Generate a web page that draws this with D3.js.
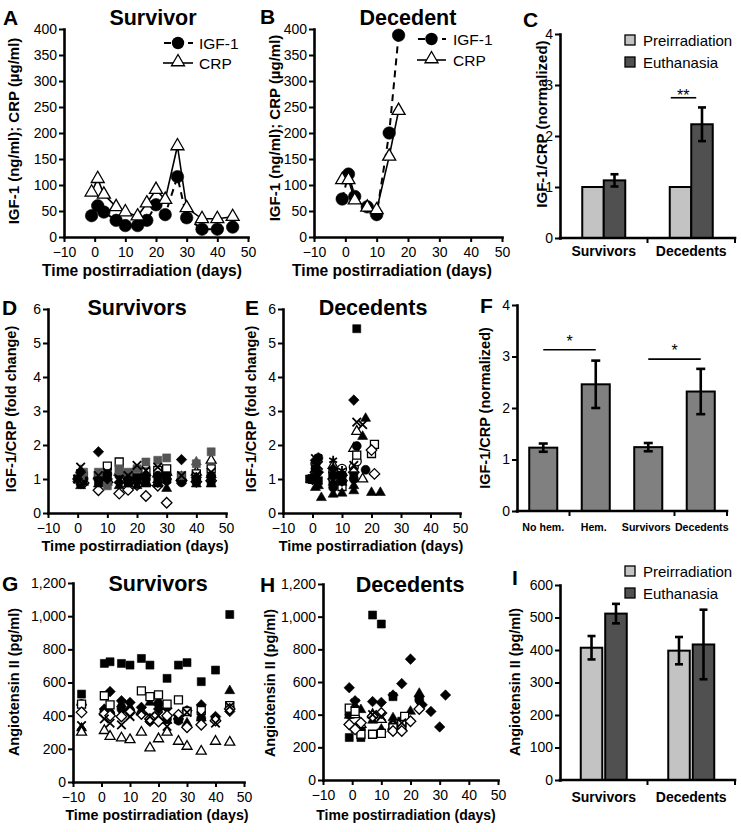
<!DOCTYPE html>
<html><head><meta charset="utf-8">
<script src="https://cdn.jsdelivr.net/npm/d3@7"></script>
<style>body{margin:0;background:#fff} svg{display:block} text{font-family:"Liberation Sans",Arial,Helvetica,sans-serif}</style>
</head><body><svg id="c" width="741" height="832"></svg>
<script>
// ---------------- DATA ----------------
// Panel A (survivor) & B (decedent): IGF-1 and CRP time courses
const daysA = [-1,1,3,7,10,14,17,20,23,27,30,35,40,45];
const igfA  = [41,60,48,32,22,22,32,62,43,116,37,15,15,19];
const crpA  = [86,112,82,58,48,40,65,91,72,175,56,35,35,39];
const daysB = [-1,1,3,7,10,14,17];
const igfB  = [73,121,78,58,43,200,388];
const crpB  = [110,110,71,57,52,155,243];
const timeTicks = [-10,0,10,20,30,40,50];
const yTicksAB = [0,50,100,150,200,250,300,350,400];

// Panel C
const catsC = ["Survivors","Decedents"];
const preC = [1.0,1.0];
const euC = [1.13,2.23];
const euErrC = [0.12,0.33];
const yTicksC = [0,1,2,3,4];

// Panel D (survivors, fold change)
const D_sqK  = [[0,1.0],[1,0.95],[2,1.1],[7,0.95],[10,1.1],[14,1.25],[17,1.15],[20,1.05],[23,0.95],[27,1.0],[30,1.1],[35,1.0],[40,0.95],[45,0.9]];
const D_sqG  = [[0,1.0],[1,1.1],[2,1.2],[7,1.2],[10,0.8],[14,1.3],[17,1.2],[20,1.3],[23,1.5],[27,1.55],[30,1.62],[35,1.1],[40,1.45],[45,1.8]];
const D_sqO  = [[1,1.15],[7,1.1],[10,1.38],[14,1.5],[17,1.1],[20,1.2],[23,1.2],[27,1.25],[30,1.3],[35,1.05],[40,1.15],[45,1.3]];
const D_diaK = [[0,1.0],[1,1.2],[7,1.8],[10,1.0],[14,0.9],[17,1.0],[20,0.9],[23,1.1],[27,0.9],[30,1.0],[35,1.57],[40,1.05],[45,1.05]];
const D_diaO = [[2,0.88],[7,0.67],[10,0.9],[14,0.57],[17,0.68],[20,0.82],[23,0.5],[27,0.8],[30,0.3],[35,0.95],[40,0.92],[45,0.95]];
const D_cirK = [[0,1.0],[1,0.85],[2,1.0],[7,1.0],[10,1.15],[14,1.1],[17,0.9],[20,1.0],[23,1.0],[27,1.1],[30,0.95],[35,0.9],[40,1.0],[45,1.1]];
const D_triK = [[0,1.0],[1,0.8],[2,0.9],[7,0.85],[10,0.9],[14,0.8],[17,0.85],[20,0.8],[23,0.85],[27,0.85],[30,0.72],[35,0.95],[40,0.85],[45,0.85]];
const D_triO = [[1,1.05],[7,1.1],[10,1.0],[14,1.2],[17,1.05],[20,1.1],[23,0.9],[27,1.15],[30,1.2],[35,1.05],[40,1.2],[45,1.55]];
const D_x    = [[0,1.0],[1,1.35],[7,1.1],[10,1.2],[14,1.0],[17,1.1],[20,1.4],[23,1.25],[27,1.35],[30,1.0],[35,1.1],[40,1.1],[45,1.2]];
const D_triG = [[1,1.25],[14,1.2],[40,1.5]];

// Panel E (decedents, fold change)
const E_sqK  = [[-1,1.0],[0,1.0],[1,1.3],[2,0.95],[7,1.1],[10,1.0],[14,1.1],[15,5.42]];
const E_diaK = [[0,1.0],[1,1.55],[2,1.2],[7,1.3],[10,1.1],[14,3.32]];
const E_x    = [[0,1.0],[1,1.6],[2,1.4],[7,1.2],[10,1.0],[14,1.4],[15,2.67],[17,2.6]];
const E_triK = [[0,1.0],[1,0.75],[3,0.45],[7,0.55],[10,0.58],[14,0.65],[18,2.78]];
const E_triK2= [[0,1.0],[1,1.1],[2,0.8],[7,0.9],[10,0.9],[14,0.8],[17,2.25],[20,0.6],[23,0.6]];
const E_triO = [[0,1.0],[1,1.2],[7,1.4],[10,1.2],[14,1.9],[15,2.4],[17,1.0]];
const E_cirK = [[0,1.0],[1,1.3],[2,1.62],[7,0.75],[10,1.1],[14,1.0],[15,1.97],[18,1.27]];
const E_cirO = [[0,1.0],[1,1.45],[7,1.2],[10,1.3],[14,1.35],[15,1.52]];
const E_sqO  = [[0,1.0],[1,1.1],[7,1.0],[10,0.78],[15,1.7],[20,1.75],[21,2.02]];
const E_diaO = [[0,1.0],[1,1.2],[7,1.0],[10,0.95],[14,1.2],[20,1.85],[21,1.15]];
const E_star = [[0,1.0],[1,1.5],[2,1.65],[7,1.55],[10,1.25]];
const yTicksDE = [0,1,2,3,4,5,6];

// Panel F
const catsF = ["No hem.","Hem.","Survivors","Decedents"];
const valF = [1.23,2.46,1.24,2.32];
const errF = [0.08,0.46,0.08,0.44];

// Panel G (survivors, angiotensin II)
const G_sqK  = [[-7,530],[1,715],[3,725],[7,715],[10,705],[14,745],[17,705],[23,625],[27,705],[30,720],[35,605],[40,675],[45,1010]];
const G_sqO  = [[-7,470],[1,520],[3,465],[14,550],[17,515],[20,525],[23,470],[27,495],[30,425],[35,430],[45,460]];
const G_triO = [[-7,300],[1,310],[3,275],[7,265],[10,255],[14,300],[17,205],[20,260],[23,300],[27,245],[30,215],[35,185],[40,245],[45,240]];
const G_diaO = [[-7,420],[1,410],[3,400],[7,395],[10,420],[14,410],[17,380],[20,365],[23,400],[27,405],[30,330],[35,345],[40,370],[45,440]];
const G_diaK = [[-7,465],[1,440],[3,545],[7,490],[10,480],[14,450],[17,365],[20,440],[23,445],[27,380],[30,430],[35,465],[40,395],[45,425]];
const G_triK = [[-7,325],[1,420],[3,430],[7,470],[10,450],[14,420],[17,480],[20,490],[23,370],[27,400],[30,355],[35,385],[40,380],[45,550]];
const G_x    = [[-7,340],[1,380],[3,355],[7,345],[10,395],[14,430],[17,395],[20,400],[23,335],[27,380],[30,420],[35,400],[40,355],[45,455]];
const G_cirK = [[-7,470],[1,425],[3,415],[7,440],[10,430],[14,415],[17,370],[20,470],[23,380],[27,370],[30,430],[35,385],[40,385],[45,450]];

// Panel H (decedents, angiotensin II)
const H_sqK  = [[-1,260],[1,315],[3,260],[7,1010],[10,955],[14,510],[17,360]];
const H_diaK = [[-1,565],[1,485],[7,480],[10,475],[14,520],[17,590],[20,740],[23,510],[24,460],[27,420],[30,325],[32,520]];
const H_triK = [[-1,395],[1,450],[3,430],[7,365],[10,310],[14,380],[17,360],[20,420],[23,530]];
const H_diaO = [[-1,340],[1,310],[3,350],[7,390],[10,410],[14,300],[17,300],[20,360],[23,435]];
const H_sqO  = [[-1,440],[1,420],[3,280],[7,280],[10,285],[14,320],[17,340],[18,390]];
const H_triO = [[1,400],[3,340],[7,400],[10,370],[14,330],[17,320]];
const H_cirK = [[-1,400],[1,320],[3,310],[14,340],[17,330],[23,490]];
const H_x    = [[1,470],[7,400],[10,390],[17,350]];
const yTicksGH = [0,200,400,600,800,1000,1200];

// Panel I
const catsI = ["Survivors","Decedents"];
const preI = [407,398];
const preErrI = [36,42];
const euI = [512,417];
const euErrI = [30,107];
const yTicksI = [0,100,200,300,400,500,600];

// ---------------- DRAWING ----------------
const svg = d3.select("#c");
svg.append("rect").attr("width",741).attr("height",832).attr("fill","#fff");
const FONT = '"Liberation Sans", Arial, Helvetica, sans-serif';
const PRE = "#c3c3c3", EU = "#505050", FBAR = "#808080", GRAY = "#555555";

function txt(x,y,s,o={}) {
  const t = svg.append("text").attr("x",x).attr("y",y).text(s)
    .attr("font-size",o.size||14).attr("font-weight",o.bold?"bold":"normal")
    .attr("text-anchor",o.anchor||"start").attr("fill","#000").attr("font-family",FONT);
  if (o.rot) t.attr("transform",`rotate(-90,${x},${y})`);
  return t;
}
const fmtMinus = d => d < 0 ? "\u2212" + Math.abs(d) : String(d);
function styleAxis(g) {
  g.attr("font-family",FONT).attr("font-size",14);
  g.select(".domain").attr("stroke","#000").attr("stroke-width",2.6).attr("stroke-linecap","square");
  g.selectAll(".tick line").attr("stroke","#000").attr("stroke-width",2);
  g.selectAll(".tick text").attr("fill","#000").attr("font-size",14).attr("font-family",FONT);
}
function xAxisLin(x, y0) {
  const g = svg.append("g").attr("transform",`translate(0,${y0})`)
    .call(d3.axisBottom(x).tickValues(timeTicks).tickSize(5).tickSizeOuter(0).tickPadding(5.5).tickFormat(fmtMinus));
  styleAxis(g);
}
function yAxisLin(y, x0, ticks, fmt) {
  const g = svg.append("g").attr("transform",`translate(${x0},0)`)
    .call(d3.axisLeft(y).tickValues(ticks).tickSize(5).tickSizeOuter(0).tickPadding(2).tickFormat(fmt||(d=>String(d))));
  styleAxis(g);
}
function shapePath(shape, s) {
  const p = d3.path();
  if (shape==="sq") { p.rect(-s/2,-s/2,s,s); }
  else if (shape==="dia") { const r=s*0.62; p.moveTo(0,-r); p.lineTo(r,0); p.lineTo(0,r); p.lineTo(-r,0); p.closePath(); }
  else if (shape==="cir") { p.moveTo(s/2,0); p.arc(0,0,s/2,0,2*Math.PI); p.closePath(); }
  else if (shape==="tri") { const h=s*0.866; p.moveTo(0,-2*h/3); p.lineTo(s/2,h/3); p.lineTo(-s/2,h/3); p.closePath(); }
  else if (shape==="x") { const r=s/2; p.moveTo(-r,-r); p.lineTo(r,r); p.moveTo(r,-r); p.lineTo(-r,r); }
  else if (shape==="star") { const r=s/2; for (let k=0;k<3;k++){const a=Math.PI/2+k*Math.PI/3; p.moveTo(r*Math.cos(a),r*Math.sin(a)); p.lineTo(-r*Math.cos(a),-r*Math.sin(a));} }
  return p.toString();
}
function markers(x, y, pts, shape, fill, s) {
  const g = svg.append("g");
  const line = (shape==="x"||shape==="star");
  g.selectAll("path").data(pts).join("path")
    .attr("transform", d=>`translate(${x(d[0])},${y(d[1])})`)
    .attr("d", shapePath(shape, s))
    .attr("fill", line ? "none" : (fill==="o" ? "#fff" : (fill==="g" ? GRAY : "#000")))
    .attr("stroke", fill==="g" ? GRAY : "#000")
    .attr("stroke-width", line ? 1.8 : (fill==="o" ? 1.3 : 0.6));
}
const SZ = {sq:8, dia:8.5, cir:9, tri:10, x:8.5, star:9};

// ---- Panels A & B ----
function linePanel(x0,x1,y0,y1, days, igf, crp) {
  const x = d3.scaleLinear().domain([-10,50]).range([x0,x1]);
  const y = d3.scaleLinear().domain([0,400]).range([y0,y1]);
  xAxisLin(x, y0); yAxisLin(y, x0, yTicksAB);
  const ln = d3.line().x((d,i)=>x(days[i])).y(d=>y(d));
  svg.append("path").attr("d", ln(igf)).attr("fill","none").attr("stroke","#000").attr("stroke-width",2).attr("stroke-dasharray","7,5");
  svg.append("path").attr("d", ln(crp)).attr("fill","none").attr("stroke","#000").attr("stroke-width",1.6);
  markers(x,y, days.map((d,i)=>[d,igf[i]]), "cir","k", 12.5);
  markers(x,y, days.map((d,i)=>[d,crp[i]]), "tri","o", 13);
}
linePanel(64,248,237,29, daysA, igfA, crpA);
linePanel(314,502,237,29, daysB, igfB, crpB);

function lineLegend(lx0, lx1, yI, yC, tx) {
  svg.append("line").attr("x1",lx0).attr("x2",lx1).attr("y1",yI).attr("y2",yI).attr("stroke","#000").attr("stroke-width",2).attr("stroke-dasharray","7,5").attr("stroke-dashoffset",-1);
  svg.append("circle").attr("cx",(lx0+lx1)/2).attr("cy",yI).attr("r",6.2).attr("fill","#000");
  svg.append("line").attr("x1",lx0).attr("x2",lx1).attr("y1",yC).attr("y2",yC).attr("stroke","#000").attr("stroke-width",1.6);
  svg.append("path").attr("transform",`translate(${(lx0+lx1)/2},${yC-1})`).attr("d",shapePath("tri",13)).attr("fill","#fff").attr("stroke","#000").attr("stroke-width",1.3);
  txt(tx, yI+5.5, "IGF-1", {size:15.5});
  txt(tx, yC+5.5, "CRP", {size:15.5});
}
lineLegend(163,193,43,63,199);
lineLegend(417,446,39,60,453);

// ---- Panel C ----
{
  const y = d3.scaleLinear().domain([0,4]).range([238,34]);
  const xg = d3.scaleBand().domain(catsC).range([560,735]);
  const xs = d3.scaleBand().domain(["pre","eu"]).range([-21.5,21.5]);
  catsC.forEach((c,i)=>{
    const cx = xg(c)+xg.bandwidth()/2;
    svg.append("rect").attr("x",cx+xs("pre")).attr("width",xs.bandwidth()).attr("y",y(preC[i])).attr("height",y(0)-y(preC[i]))
      .attr("fill",PRE).attr("stroke","#000").attr("stroke-width",2);
    svg.append("rect").attr("x",cx+xs("eu")).attr("width",xs.bandwidth()).attr("y",y(euC[i])).attr("height",y(0)-y(euC[i]))
      .attr("fill",EU).attr("stroke","#000").attr("stroke-width",2);
    const ex = cx+xs("eu")+xs.bandwidth()/2;
    svg.append("line").attr("x1",ex).attr("x2",ex).attr("y1",y(euC[i]-euErrC[i])).attr("y2",y(euC[i]+euErrC[i])).attr("stroke","#000").attr("stroke-width",2.6);
    [euC[i]-euErrC[i], euC[i]+euErrC[i]].forEach(v=>svg.append("line").attr("x1",ex-4).attr("x2",ex+4).attr("y1",y(v)).attr("y2",y(v)).attr("stroke","#000").attr("stroke-width",2.6));
    txt(cx, 256, c, {bold:true, size:14, anchor:"middle"});
  });
  yAxisLin(y, 560, yTicksC);
  svg.append("line").attr("x1",560).attr("x2",735).attr("y1",y(0)).attr("y2",y(0)).attr("stroke","#000").attr("stroke-width",2.6).attr("stroke-linecap","square");
  [xg("Decedents"), 735].forEach(t=>svg.append("line").attr("x1",t).attr("x2",t).attr("y1",y(0)).attr("y2",y(0)+5).attr("stroke","#000").attr("stroke-width",2));
  const d2 = xg("Decedents")+xg.bandwidth()/2;
  svg.append("line").attr("x1",d2+xs("pre")+1).attr("x2",d2+xs("eu")+5).attr("y1",y(2.75)).attr("y2",y(2.75)).attr("stroke","#000").attr("stroke-width",1.6);
  txt(d2-8, y(2.75)+3, "**", {size:16, anchor:"middle"});
  [["Preirradiation",PRE,40],["Euthanasia",EU,62]].forEach(([l,c,yy])=>{
    svg.append("rect").attr("x",625).attr("y",yy-5).attr("width",10).attr("height",10).attr("fill",c).attr("stroke","#000").attr("stroke-width",1.3);
    txt(643, yy+5.5, l, {size:15});
  });
}

// ---- Scatter panels ----
function scatterPanel(x0,x1,y0,y1, ydom, yticks, fmt, series) {
  const x = d3.scaleLinear().domain([-10,50]).range([x0,x1]);
  const y = d3.scaleLinear().domain(ydom).range([y0,y1]);
  series.forEach(([pts,shape,fill])=>markers(x,y,pts,shape,fill,SZ[shape]));
  xAxisLin(x, y0); yAxisLin(y, x0, yticks, fmt);
}
scatterPanel(48,226,513,309,[0,6],yTicksDE,null,[
  [D_triO,"tri","o"],[D_diaO,"dia","o"],[D_sqO,"sq","o"],
  [D_triK,"tri","k"],[D_cirK,"cir","k"],[D_sqK,"sq","k"],[D_sqG,"sq","g"],[D_triG,"tri","g"],[D_diaK,"dia","k"],[D_x,"x","k"]
]);
scatterPanel(283,460,513,309,[0,6],yTicksDE,null,[
  [E_triO,"tri","o"],[E_cirO,"cir","o"],[E_sqO,"sq","o"],[E_diaO,"dia","o"],
  [E_triK,"tri","k"],[E_triK2,"tri","k"],[E_cirK,"cir","k"],[E_sqK,"sq","k"],[E_diaK,"dia","k"],[E_x,"x","k"],[E_star,"star","k"]
]);

// ---- Panel F ----
{
  const y = d3.scaleLinear().domain([0,4]).range([511,305]);
  const x = d3.scaleBand().domain(catsF).range([517,727]).paddingInner(0.466).paddingOuter(0.233);
  const labelShift = [0,-2,-2,1];
  catsF.forEach((c,i)=>{
    svg.append("rect").attr("x",x(c)).attr("width",x.bandwidth()).attr("y",y(valF[i])).attr("height",y(0)-y(valF[i]))
      .attr("fill",FBAR).attr("stroke","#000").attr("stroke-width",2);
    const ex = x(c)+x.bandwidth()/2;
    svg.append("line").attr("x1",ex).attr("x2",ex).attr("y1",y(valF[i]-errF[i])).attr("y2",y(valF[i]+errF[i])).attr("stroke","#000").attr("stroke-width",2.6);
    [valF[i]-errF[i], valF[i]+errF[i]].forEach(v=>svg.append("line").attr("x1",ex-4.5).attr("x2",ex+4.5).attr("y1",y(v)).attr("y2",y(v)).attr("stroke","#000").attr("stroke-width",2.6));
    txt(ex+labelShift[i], 531, c, {bold:true, size:10.6, anchor:"middle"});
  });
  yAxisLin(y, 517, yTicksC);
  svg.append("line").attr("x1",517).attr("x2",727).attr("y1",y(0)).attr("y2",y(0)).attr("stroke","#000").attr("stroke-width",2.6).attr("stroke-linecap","square");
  const step = x.step();
  [517+step, 517+3*step, 727].forEach(t=>svg.append("line").attr("x1",t).attr("x2",t).attr("y1",y(0)).attr("y2",y(0)+5).attr("stroke","#000").attr("stroke-width",2));
  const c1 = x(catsF[0])+x.bandwidth()/2, c2 = x(catsF[1])+x.bandwidth()/2;
  const c3 = x(catsF[2])+x.bandwidth()/2, c4 = x(catsF[3])+x.bandwidth()/2;
  svg.append("line").attr("x1",c1).attr("x2",c2).attr("y1",y(3.13)).attr("y2",y(3.13)).attr("stroke","#000").attr("stroke-width",1.6);
  txt((c1+c2)/2, y(3.13)-3, "*", {size:16, anchor:"middle"});
  svg.append("line").attr("x1",c3).attr("x2",c4).attr("y1",y(2.95)).attr("y2",y(2.95)).attr("stroke","#000").attr("stroke-width",1.6);
  txt((c3+c4)/2, y(2.95)-3, "*", {size:16, anchor:"middle"});
}

// ---- Panels G & H ----
const fmtComma = d3.format(",");
scatterPanel(73,244,782,583,[0,1200],yTicksGH,fmtComma,[
  [G_triK,"tri","k"],[G_cirK,"cir","k"],[G_sqK,"sq","k"],[G_diaK,"dia","k"],
  [G_triO,"tri","o"],[G_sqO,"sq","o"],[G_diaO,"dia","o"],[G_x,"x","k"]
]);
scatterPanel(323,498,780,584,[0,1200],yTicksGH,fmtComma,[
  [H_triK,"tri","k"],[H_cirK,"cir","k"],[H_sqK,"sq","k"],[H_diaK,"dia","k"],
  [H_triO,"tri","o"],[H_sqO,"sq","o"],[H_diaO,"dia","o"],[H_x,"x","k"]
]);

// ---- Panel I ----
{
  const y = d3.scaleLinear().domain([0,600]).range([780,585]);
  const xg = d3.scaleBand().domain(catsI).range([560,735]);
  const xs = d3.scaleBand().domain(["pre","eu"]).range([-23,23]).paddingInner(0.12);
  catsI.forEach((c,i)=>{
    const cx = xg(c)+xg.bandwidth()/2;
    [["pre",preI[i],preErrI[i],PRE],["eu",euI[i],euErrI[i],EU]].forEach(([k,v,e,col])=>{
      svg.append("rect").attr("x",cx+xs(k)).attr("width",xs.bandwidth()).attr("y",y(v)).attr("height",y(0)-y(v))
        .attr("fill",col).attr("stroke","#000").attr("stroke-width",2);
      const ex = cx+xs(k)+xs.bandwidth()/2;
      svg.append("line").attr("x1",ex).attr("x2",ex).attr("y1",y(v-e)).attr("y2",y(v+e)).attr("stroke","#000").attr("stroke-width",2.6);
      [v-e,v+e].forEach(w=>svg.append("line").attr("x1",ex-4).attr("x2",ex+4).attr("y1",y(w)).attr("y2",y(w)).attr("stroke","#000").attr("stroke-width",2.6));
    });
    txt(cx, 802, c, {bold:true, size:14, anchor:"middle"});
  });
  yAxisLin(y, 560, yTicksI);
  svg.append("line").attr("x1",560).attr("x2",735).attr("y1",y(0)).attr("y2",y(0)).attr("stroke","#000").attr("stroke-width",2.6).attr("stroke-linecap","square");
  [xg("Decedents"), 735].forEach(t=>svg.append("line").attr("x1",t).attr("x2",t).attr("y1",y(0)).attr("y2",y(0)+5).attr("stroke","#000").attr("stroke-width",2));
  [["Preirradiation",PRE,571],["Euthanasia",EU,593]].forEach(([l,c,yy])=>{
    svg.append("rect").attr("x",625).attr("y",yy-5).attr("width",10).attr("height",10).attr("fill",c).attr("stroke","#000").attr("stroke-width",1.3);
    txt(643, yy+5.5, l, {size:15});
  });
}

// ---- Titles, panel letters, axis titles ----
[["A",3,25],["B",260,24],["C",523,27],["D",2,315],["E",245,315],["F",480,313],["G",2,591],["H",260,592],["I",512,585]]
  .forEach(([l,x,y])=>txt(x,y,l,{bold:true,size:21}));
[["Survivor",153,25],["Decedent",408,25],["Survivors",137,315],["Decedents",373,315],["Survivors",158,591],["Decedents",410,592]]
  .forEach(([t,x,y])=>txt(x,y,t,{bold:true,size:21.5,anchor:"middle"}));
[[142,276,15.6],[392,276,15.6],[135,551,14.6],[371,551,14.4],[157,820,14.3],[406,820,14]]
  .forEach(([x,y,s])=>txt(x,y,"Time postirradiation (days)",{bold:true,size:s,anchor:"middle"}));
[["IGF-1 (ng/ml); CRP (\u00b5g/ml)",19,131,15],["IGF-1 (ng/ml); CRP (\u00b5g/ml)",280,128,15],["IGF-1/CRP (normalized)",547,124,15],
 ["IGF-1/CRP (fold change)",16,409,14.5],["IGF-1/CRP (fold change)",256,409,14.5],["IGF-1/CRP (normalized)",490,408,14.5],
 ["Angiotensin II (pg/ml)",19,682,14.5],["Angiotensin II (pg/ml)",275,683,14.5],["Angiotensin II (pg/ml)",520,682,14.5]]
  .forEach(([t,x,y,s])=>txt(x,y,t,{bold:true,size:s,anchor:"middle",rot:true}));
</script></body></html>
